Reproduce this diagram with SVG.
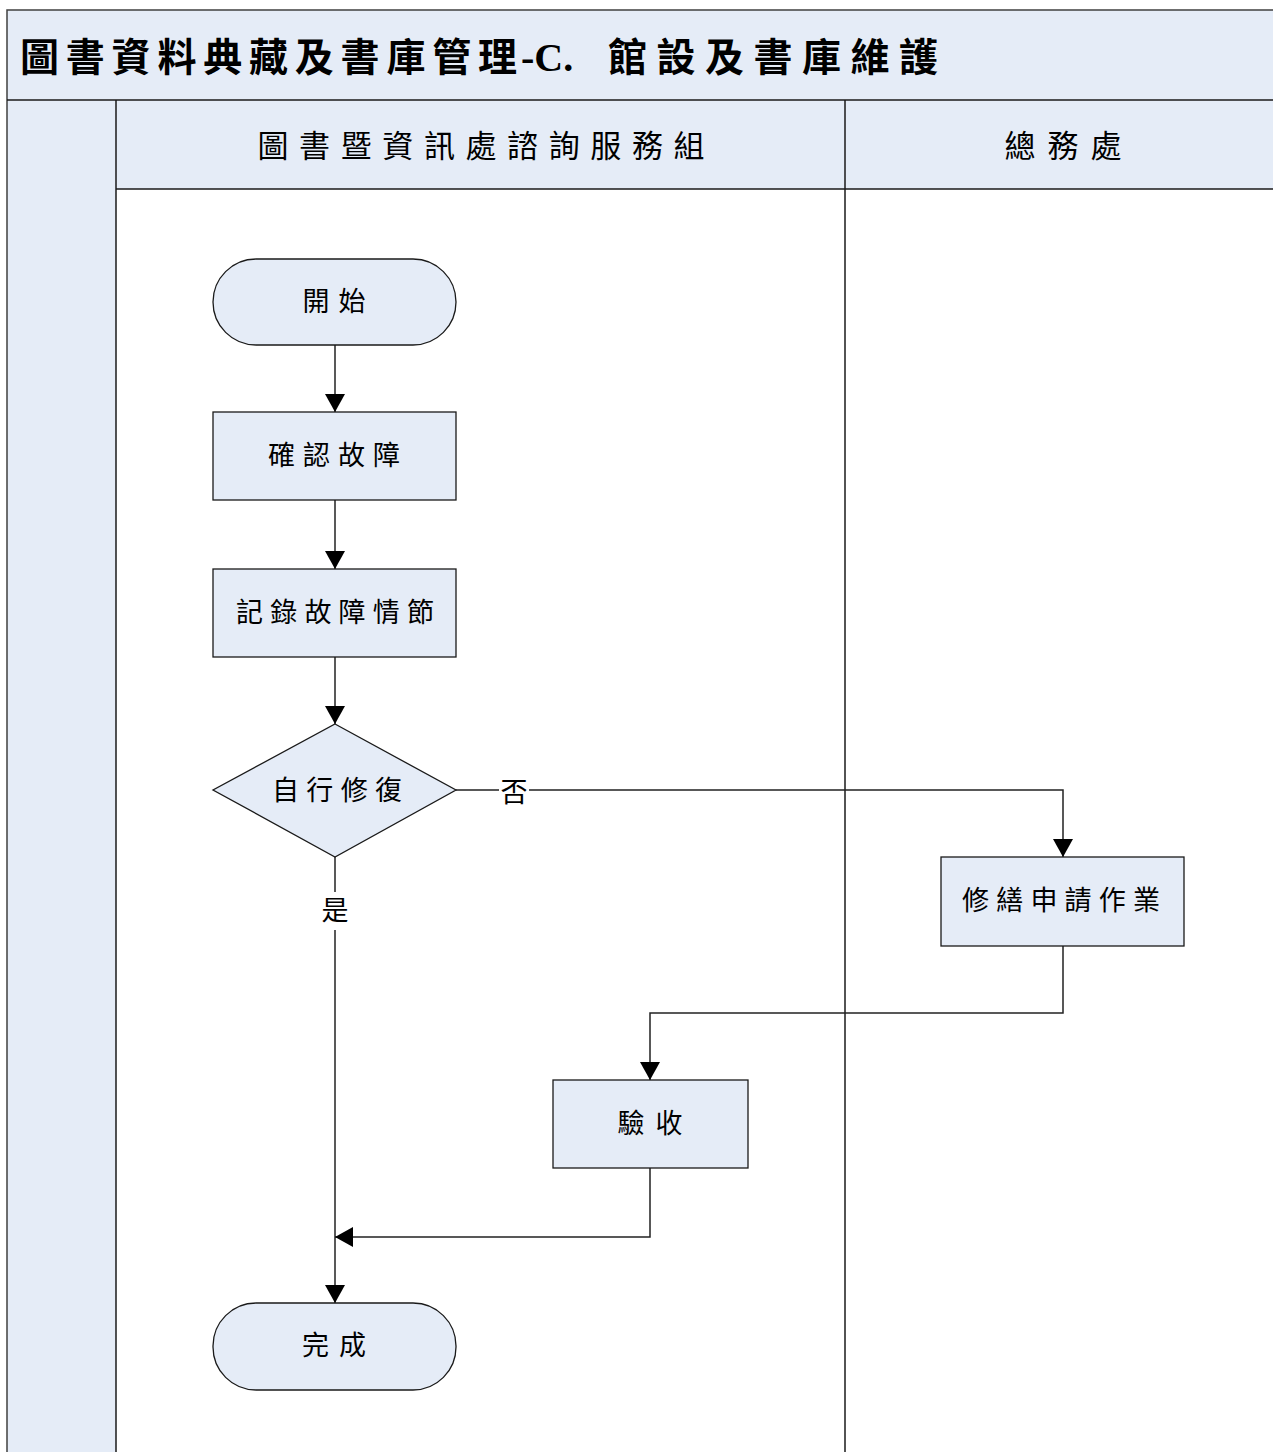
<svg xmlns="http://www.w3.org/2000/svg" width="1273" height="1452" viewBox="0 0 1273 1452">
<style>
.band{fill:#E5ECF7;stroke:#404040;stroke-width:1.5}
.body{fill:#FFFFFF;stroke:none}
.div{stroke:#1a1a1a;stroke-width:1.5;fill:none}
.node{fill:#E5ECF7;stroke:#1a1a1a;stroke-width:1.3}
.t{font-family:"Noto Sans CJK TC","Noto Sans CJK SC",sans-serif;fill:#000}
.title{font-size:39px;font-weight:bold}
.lat{font-family:"Liberation Serif",serif;font-size:40px;font-weight:bold}
.hdr{font-size:31px}
.lbl{font-size:27px}
.conn{fill:none;stroke:#222;stroke-width:1.5}
.mask{fill:#fff;stroke:none}
</style>
<defs>
<marker id="arr" markerUnits="userSpaceOnUse" viewBox="0 0 18 20" refX="18" refY="10" markerWidth="18" markerHeight="20" orient="auto">
<path d="M0,0 L18,10 L0,20 z" fill="#000"/>
</marker>
</defs>
<rect x="0" y="0" width="1273" height="1452" fill="#fff"/>
<g id="frame">
<rect class="band" x="7" y="10" width="1280" height="1460"/>
<rect class="body" x="116" y="189" width="1170" height="1270"/>
<line class="div" x1="7" y1="100" x2="1273" y2="100"/>
<line class="div" x1="116" y1="189" x2="1273" y2="189"/>
<line class="div" x1="116" y1="100" x2="116" y2="1452"/>
<line class="div" x1="845" y1="100" x2="845" y2="1452"/>
<text class="t title" x="20" y="71"><tspan textLength="497" lengthAdjust="spacing">圖書資料典藏及書庫管理</tspan><tspan class="lat" x="521">-C.</tspan><tspan x="608" textLength="330" lengthAdjust="spacing">館設及書庫維護</tspan></text>
</g>
<g id="lane1">
<text class="t hdr" x="481" y="157" text-anchor="middle" textLength="447" lengthAdjust="spacing">圖書暨資訊處諮詢服務組</text>
</g>
<g id="lane2">
<text class="t hdr" x="1063" y="157" text-anchor="middle" textLength="117" lengthAdjust="spacing">總務處</text>
</g>
<g id="connectors">
<line class="conn" x1="335" y1="345" x2="335" y2="412" marker-end="url(#arr)"/>
<line class="conn" x1="335" y1="500" x2="335" y2="569" marker-end="url(#arr)"/>
<line class="conn" x1="335" y1="657" x2="335" y2="724" marker-end="url(#arr)"/>
<polyline class="conn" points="456,790 1063,790 1063,857" marker-end="url(#arr)"/>
<line class="conn" x1="335" y1="857" x2="335" y2="1303" marker-end="url(#arr)"/>
<polyline class="conn" points="1063,946 1063,1013 650,1013 650,1080" marker-end="url(#arr)"/>
<polyline class="conn" points="650,1168 650,1237 335,1237" marker-end="url(#arr)"/>
<rect class="mask" x="499" y="776" width="30" height="30"/>
<text class="t lbl" x="514" y="802" text-anchor="middle">否</text>
<rect class="mask" x="319" y="892" width="32" height="38"/>
<text class="t lbl" x="335" y="920" text-anchor="middle">是</text>
</g>
<g id="start">
<rect class="node" x="213" y="259" width="243" height="86" rx="43" ry="43"/>
<text class="t lbl" x="334" y="311" text-anchor="middle" textLength="63" lengthAdjust="spacing">開始</text>
</g>
<g id="confirm">
<rect class="node" x="213" y="412" width="243" height="88"/>
<text class="t lbl" x="334" y="465" text-anchor="middle" textLength="132" lengthAdjust="spacing">確認故障</text>
</g>
<g id="record">
<rect class="node" x="213" y="569" width="243" height="88"/>
<text class="t lbl" x="335" y="622" text-anchor="middle" textLength="198" lengthAdjust="spacing">記錄故障情節</text>
</g>
<g id="decision">
<polygon class="node" points="335,724 456,790 335,857 213,790"/>
<text class="t lbl" x="337" y="800" text-anchor="middle" textLength="130" lengthAdjust="spacing">自行修復</text>
</g>
<g id="repair">
<rect class="node" x="941" y="857" width="243" height="89"/>
<text class="t lbl" x="1061" y="910" text-anchor="middle" textLength="198" lengthAdjust="spacing">修繕申請作業</text>
</g>
<g id="accept">
<rect class="node" x="553" y="1080" width="195" height="88"/>
<text class="t lbl" x="650" y="1133" text-anchor="middle" textLength="65" lengthAdjust="spacing">驗收</text>
</g>
<g id="end">
<rect class="node" x="213" y="1303" width="243" height="87" rx="43" ry="43"/>
<text class="t lbl" x="334" y="1355" text-anchor="middle" textLength="64" lengthAdjust="spacing">完成</text>
</g>
</svg>
